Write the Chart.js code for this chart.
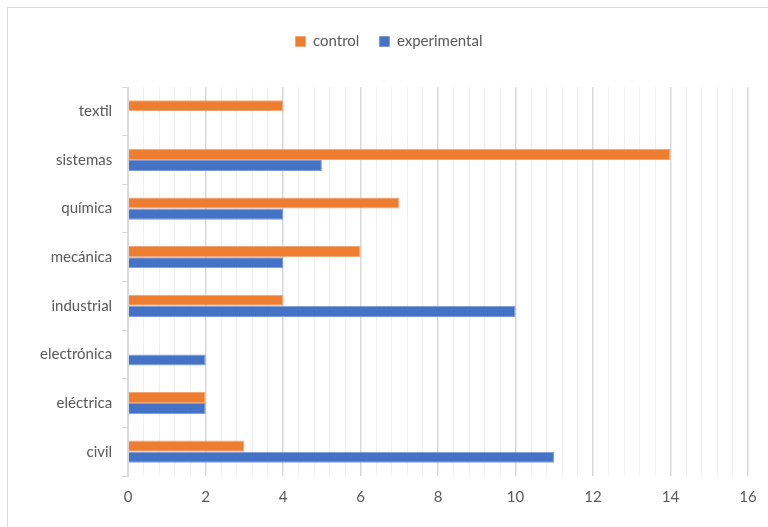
<!DOCTYPE html>
<html>
<head>
<meta charset="utf-8">
<script src="https://cdn.jsdelivr.net/npm/chart.js@4/dist/chart.umd.min.js"></script>
<style>
  html, body { margin: 0; padding: 0; background: #fff; overflow: hidden; }
  #frame { position: absolute; left: 7px; top: 7px; width: 790px; height: 520px;
           border-left: 1px solid #d9d9d9; border-top: 1px solid #d9d9d9; }
  #wrap { position: absolute; left: 0; top: 0; width: 790px; height: 520px; }
</style>
</head>
<body>
<div id="frame"><div id="wrap"><canvas id="c"></canvas></div></div>
<script>
// Carreras (de arriba hacia abajo) y conteos por grupo
const categories = ['textil', 'sistemas', 'química', 'mecánica', 'industrial', 'electrónica', 'eléctrica', 'civil'];
const controlValues = [4, 14, 7, 6, 4, 0, 2, 3];
const experimentalValues = [0, 5, 4, 4, 10, 2, 2, 11];
const xTickLabels = [0, 2, 4, 6, 8, 10, 12, 14, 16];

const textColor = '#595959';
const font = { family: 'Lato', size: 15 };

// extra room below the legend
const legendSpace = {
  id: 'legendSpace',
  beforeInit(chart) {
    const fit = chart.legend.fit;
    chart.legend.fit = function () {
      fit.call(this);
      this.height += 28;
    };
  }
};

new Chart(document.getElementById('c'), {
  type: 'bar',
  data: {
    labels: categories,
    datasets: [
      { label: 'control', data: controlValues, backgroundColor: '#ED7D31',
        borderColor: '#F4A673', borderWidth: 1, borderSkipped: 'start' },
      { label: 'experimental', data: experimentalValues, backgroundColor: '#4472C4',
        borderColor: '#7C9BD6', borderWidth: 1, borderSkipped: 'start' }
    ]
  },
  plugins: [legendSpace],
  options: {
    indexAxis: 'y',
    responsive: true,
    maintainAspectRatio: false,
    animation: false,
    layout: { padding: { top: 6, left: 22, right: 50, bottom: 10 } },
    datasets: { bar: { barPercentage: 1.0, categoryPercentage: 0.46 } },
    plugins: {
      legend: {
        position: 'top',
        labels: { color: textColor, font: font, boxWidth: 10, boxHeight: 10, padding: 20 }
      },
      tooltip: { enabled: false }
    },
    scales: {
      x: {
        min: 0, max: 16,
        ticks: {
          stepSize: 0.4, maxTicksLimit: 100, autoSkip: false, maxRotation: 0,
          color: textColor, font: font, padding: 12,
          callback: (value) => {
            const v = Math.round(value * 10) / 10;
            return xTickLabels.includes(v) ? String(v) : '';
          }
        },
        grid: {
          drawTicks: false,
          color: (ctx) => {
            const v = Math.round(ctx.tick.value * 10) / 10;
            return xTickLabels.includes(v) ? '#d9d9d9' : '#f0f0f0';
          },
          lineWidth: (ctx) => {
            const v = Math.round(ctx.tick.value * 10) / 10;
            return xTickLabels.includes(v) ? 1.5 : 1;
          }
        },
        border: { display: false }
      },
      y: {
        ticks: { color: textColor, font: font, padding: 10 },
        grid: { offset: true, drawOnChartArea: false, drawTicks: true, tickLength: 6, color: '#d9d9d9' },
        border: { display: true, color: '#d9d9d9' }
      }
    }
  }
});
</script>
</body>
</html>
